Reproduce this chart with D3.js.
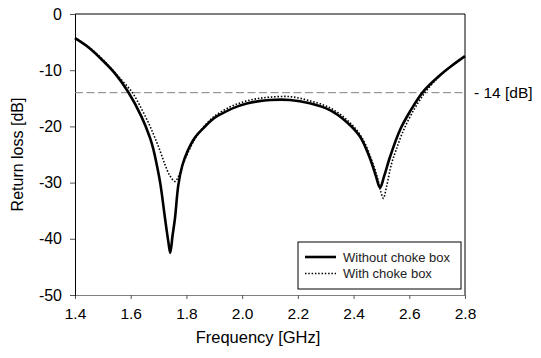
<!DOCTYPE html>
<html lang="en">
<head>
    <meta charset="UTF-8">
    <title>Return loss</title>
    <script src="https://d3js.org/d3.v7.min.js"></script>
    <style>
        body { margin: 0; background: #fff; }
        text { font-family: "Liberation Sans", Arial, sans-serif; }
    </style>
</head>
<body>
    <div id="graph"></div>
    <script>
        // values
        const withoutFreq = [1.40, 1.45, 1.50, 1.544, 1.59, 1.639, 1.669, 1.681, 1.695, 1.707, 1.723, 1.735, 1.742,
            1.750, 1.759, 1.771, 1.785, 1.803, 1.83, 1.861, 1.90, 1.932, 1.97, 2.02, 2.06, 2.10, 2.172, 2.243, 2.315,
            2.375, 2.423, 2.459, 2.48, 2.495, 2.51, 2.531, 2.567, 2.602, 2.65, 2.71, 2.75, 2.80];
        const withoutDb = [-4.3, -6.0, -8.3, -10.6, -13.8, -18.3, -22.0, -24.0, -27.2, -30.4, -36.3, -40.5, -42.5,
            -39.5, -36.3, -30.4, -27.0, -24.5, -22.0, -20.3, -18.5, -17.6, -16.7, -15.9, -15.5, -15.3, -15.3, -15.9, -17.1,
            -19.2, -21.8, -25.7, -28.8, -30.9, -28.8, -25.4, -20.6, -17.4, -13.8, -10.9, -9.3, -7.5];

        const withFreq = [1.40, 1.45, 1.50, 1.55, 1.606, 1.64, 1.665, 1.685, 1.705, 1.723, 1.741, 1.759, 1.772, 1.783,
            1.807, 1.83, 1.86, 1.90, 1.95, 2.00, 2.05, 2.10, 2.17, 2.24, 2.315, 2.38, 2.43, 2.465, 2.485, 2.497, 2.507,
            2.518, 2.537, 2.552, 2.575, 2.608, 2.656, 2.71, 2.75, 2.80];
        const withDb = [-4.2, -5.9, -8.1, -10.8, -14.0, -17.0, -19.5, -21.8, -24.3, -26.8, -28.8, -29.8, -28.8, -27.3,
            -24.5, -22.3, -20.2, -18.2, -16.7, -15.7, -15.1, -14.8, -14.7, -15.4, -16.7, -19.0, -22.0, -26.0, -29.0, -31.5, -32.8,
            -30.8, -26.5, -24.3, -21.2, -17.8, -14.0, -11.0, -9.3, -7.5];

        const xTicks = [1.4, 1.6, 1.8, 2.0, 2.2, 2.4, 2.6, 2.8];
        const yTicks = [0, -10, -20, -30, -40, -50];
        const limitDb = -14;
        const seriesNames = ["Without choke box", "With choke box"];

        const W = 541, H = 358;
        const margin = {top: 14, right: 76, bottom: 63, left: 75};
        const width = W - margin.left - margin.right,
            height = H - margin.top - margin.bottom;

        const svg = d3.select("#graph")
            .append("svg")
            .attr("width", W)
            .attr("height", H)
            .append("g")
            .attr("transform", `translate(${margin.left},${margin.top})`);

        const x = d3.scaleLinear().domain([1.4, 2.8]).range([0, width]);
        const y = d3.scaleLinear().domain([-50, 0]).range([height, 0]);

        // axe X
        const gx = svg.append("g")
            .attr("transform", `translate(0,${height})`)
            .call(d3.axisBottom(x).tickValues(xTicks).tickFormat(d3.format(".1f")).tickSize(4).tickPadding(9));
        gx.select(".domain").attr("stroke", "#808080");
        gx.selectAll(".tick line").attr("stroke", "#555");
        gx.selectAll("text").attr("font-size", 15.5).attr("fill", "#000");

        // axe Y (tiret simple, pas de signe moins unicode)
        const gy = svg.append("g")
            .call(d3.axisLeft(y).tickValues(yTicks).tickFormat(d => String(d)).tickSize(5).tickPadding(8));
        gy.select(".domain").attr("stroke", "#000");
        gy.selectAll(".tick line").attr("stroke", "#555");
        gy.selectAll("text").attr("font-size", 16).attr("fill", "#000");

        // cadre haut / droite
        svg.append("line").attr("x1", 0).attr("x2", width).attr("y1", 0).attr("y2", 0).attr("stroke", "#000");
        svg.append("line").attr("x1", width).attr("x2", width).attr("y1", 0).attr("y2", height).attr("stroke", "#000");

        // ligne -14 dB
        svg.append("line")
            .attr("x1", 0).attr("x2", width)
            .attr("y1", y(limitDb)).attr("y2", y(limitDb))
            .attr("stroke", "#808080")
            .attr("stroke-dasharray", "8,3.5");
        svg.append("text")
            .attr("x", width + 9)
            .attr("y", y(limitDb))
            .attr("dy", "0.35em")
            .attr("font-size", 15.5)
            .text("- 14 [dB]");

        const line = d3.line()
            .x(d => x(d[0]))
            .y(d => y(d[1]))
            .curve(d3.curveCatmullRom.alpha(0.5));

        svg.append("path")
            .datum(withFreq.map((f, i) => [f, withDb[i]]))
            .attr("fill", "none")
            .attr("stroke", "#000")
            .attr("stroke-width", 1.6)
            .attr("stroke-dasharray", "1.5,1.8")
            .attr("d", line);

        svg.append("path")
            .datum(withoutFreq.map((f, i) => [f, withoutDb[i]]))
            .attr("fill", "none")
            .attr("stroke", "#000")
            .attr("stroke-width", 2.6)
            .attr("d", line);

        // titres
        svg.append("text")
            .attr("x", 183)
            .attr("y", 329)
            .attr("text-anchor", "middle")
            .attr("font-size", 16.5)
            .text("Frequency [GHz]");
        svg.append("text")
            .attr("transform", `translate(${-52},${height / 2}) rotate(-90)`)
            .attr("text-anchor", "middle")
            .attr("font-size", 16)
            .text("Return loss [dB]");

        // légende
        const lg = svg.append("g").attr("transform", `translate(${298 - margin.left},${242 - margin.top})`);
        lg.append("rect")
            .attr("width", 163).attr("height", 47)
            .attr("fill", "#fff").attr("stroke", "#000");
        seriesNames.forEach((name, i) => {
            const yy = 15 + i * 16.5;
            lg.append("line")
                .attr("x1", 7).attr("x2", 38).attr("y1", yy).attr("y2", yy)
                .attr("stroke", "#000")
                .attr("stroke-width", i === 0 ? 2.6 : 1.6)
                .attr("stroke-dasharray", i === 0 ? null : "1.5,1.8");
            lg.append("text")
                .attr("x", 45).attr("y", yy).attr("dy", "0.35em")
                .attr("font-size", 13).attr("fill", "#222")
                .text(name);
        });
    </script>
</body>
</html>
